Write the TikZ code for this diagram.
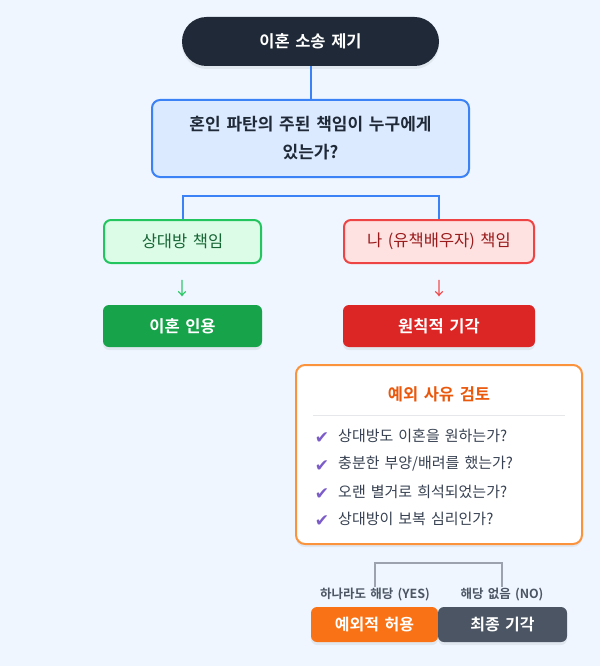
\documentclass[tikz,border=0pt]{standalone}
\usepackage{fontspec}
\setmainfont{Noto Sans CJK KR}[BoldFont={Noto Sans CJK KR Bold}, WordSpace=1.5]
\newfontfamily\symfont{DejaVu Sans}[BoldFont={DejaVu Sans Bold}]
\usetikzlibrary{shadows}
\definecolor{bgc}{HTML}{EFF6FF}
\definecolor{darkc}{HTML}{1F2937}
\definecolor{bluec}{HTML}{3B82F6}
\definecolor{bluefill}{HTML}{DBEAFE}
\definecolor{greenb}{HTML}{22C55E}
\definecolor{greenf}{HTML}{DCFCE7}
\definecolor{greent}{HTML}{166534}
\definecolor{redb}{HTML}{EF4444}
\definecolor{redf}{HTML}{FEE2E2}
\definecolor{redt}{HTML}{991B1B}
\definecolor{greenres}{HTML}{16A34A}
\definecolor{redres}{HTML}{DC2626}
\definecolor{orangeb}{HTML}{FB923C}
\definecolor{oranget}{HTML}{EA580C}
\definecolor{purplec}{HTML}{7B5CC8}
\definecolor{itemt}{HTML}{374151}
\definecolor{sepc}{HTML}{E5E7EB}
\definecolor{brkc}{HTML}{9CA3AF}
\definecolor{labt}{HTML}{4B5563}
\definecolor{orangebox}{HTML}{F97316}
\definecolor{graybox}{HTML}{4B5563}
\tikzset{
  softshadow/.style={drop shadow={opacity=0.12, shadow xshift=0pt, shadow yshift=-3pt}},
  pillbox/.style={fill=darkc, text=white, font=\bfseries\fontsize{16.5}{19}\selectfont,
    rounded corners=24.5pt, minimum width=257pt, minimum height=49pt, inner sep=0pt, softshadow},
  questbox/.style={fill=bluefill, draw=bluec, line width=2pt, text=darkc, rounded corners=8pt,
    font=\bfseries\fontsize{17}{28}\selectfont, align=center, minimum width=317pt, minimum height=77pt, inner sep=0pt},
  greenbox/.style={fill=greenf, draw=greenb, line width=2pt, text=greent, rounded corners=7pt,
    font=\fontsize{16.5}{19}\selectfont, minimum width=157pt, minimum height=43pt, inner sep=0pt},
  redbox/.style={fill=redf, draw=redb, line width=2pt, text=redt, rounded corners=7pt,
    font=\fontsize{16.5}{19}\selectfont, minimum width=190pt, minimum height=43pt, inner sep=0pt},
  resbox/.style={text=white, rounded corners=6pt, font=\bfseries\fontsize{16.5}{19}\selectfont,
    minimum height=42pt, inner sep=0pt, softshadow},
  connector/.style={draw=bluec, line width=2pt},
  arrowglyph/.style={font=\fontsize{18}{20}\selectfont, inner sep=0pt},
  exbox/.style={fill=white, draw=orangeb, line width=2pt, rounded corners=9pt,
    minimum width=286pt, minimum height=179pt, inner sep=0pt, softshadow},
  checkmark/.style={text=purplec, font=\symfont\bfseries\fontsize{17}{19}\selectfont, inner sep=0pt},
  itemtext/.style={text=itemt, font=\fontsize{15}{18}\selectfont, anchor=west, inner sep=0pt},
  bracket/.style={draw=brkc, line width=2pt},
  branchlabel/.style={text=labt, font=\bfseries\fontsize{12.5}{14}\selectfont, inner sep=1.5pt},
  finalbox/.style={text=white, rounded corners=6pt, font=\bfseries\fontsize{16}{18}\selectfont,
    minimum height=35pt, inner sep=0pt, softshadow}
}
\begin{document}
\begin{tikzpicture}[x=1pt,y=-1pt]
\useasboundingbox (0,0) rectangle (600,666);
\fill[bgc] (0,0) rectangle (600,666);

\node[pillbox] (start) at (310.5,41.5) {이혼 소송 제기};
\node[questbox] (q) at (310.5,138.5) {혼인 파탄의 주된 책임이 누구에게\\있는가?};
\draw[connector] (start.south) -- (q.north);

\node[greenbox] (g) at (182.5,241.5) {상대방 책임};
\node[redbox] (r) at (439,241.5) {나 (유책배우자) 책임};
\draw[connector] (g.north) -- ++(0,-23) -| (r.north);

\node[arrowglyph, text=greenb] (ga) at (182.5,289) {↓};
\node[arrowglyph, text=redb] (ra) at (439,289) {↓};

\node[resbox, fill=greenres, minimum width=159pt] (gres) at (182.5,326) {이혼 인용};
\node[resbox, fill=redres, minimum width=192pt] (rres) at (439,326) {원칙적 기각};

\node[exbox] (ex) at (439,454.5) {};
\node[text=oranget, font=\bfseries\fontsize{16.5}{19}\selectfont, inner sep=0pt] (title) at (439,394) {예외 사유 검토};
\coordinate (sepl) at (313,415);
\coordinate (sepr) at (565,415);
\draw[draw=sepc, line width=1pt] (sepl) -- (sepr);

\node[checkmark] (c1) at (322,438) {✔};
\node[itemtext] (t1) at (338,436) {상대방도 이혼을 원하는가?};
\node[checkmark] (c2) at (322,466) {✔};
\node[itemtext] (t2) at (338,464) {충분한 부양/배려를 했는가?};
\node[checkmark] (c3) at (322,494) {✔};
\node[itemtext] (t3) at (338,492) {오랜 별거로 희석되었는가?};
\node[checkmark] (c4) at (322,521) {✔};
\node[itemtext] (t4) at (338,519) {상대방이 보복 심리인가?};

\node[branchlabel] (yl) at (375,595) {하나라도 해당 (YES)};
\node[branchlabel] (nl) at (502,595) {해당 없음 (NO)};
\coordinate (brk) at (439,563);
\draw[bracket] (yl.north) |- (brk) -| (nl.north);

\node[finalbox, fill=orangebox, minimum width=127pt] (yes) at (374.5,624.5) {예외적 허용};
\node[finalbox, fill=graybox, minimum width=129pt] (no) at (502.5,624.5) {최종 기각};
\end{tikzpicture}
\end{document}
